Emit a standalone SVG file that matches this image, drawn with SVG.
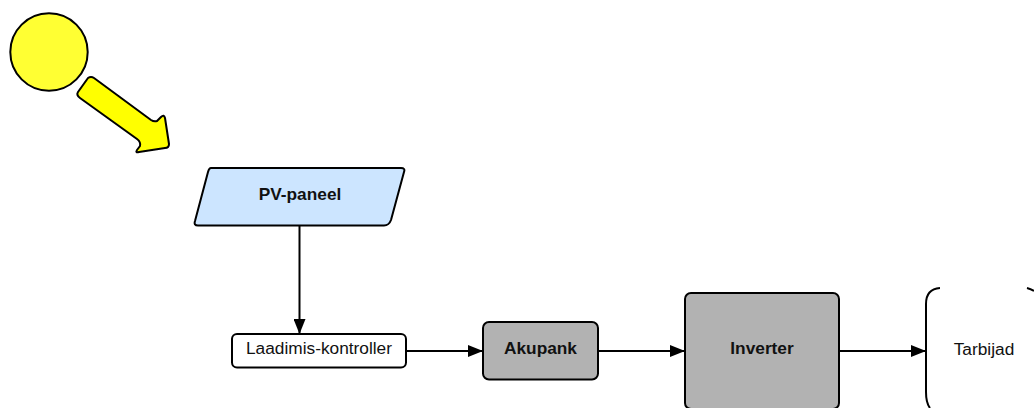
<svg xmlns="http://www.w3.org/2000/svg" width="1034" height="408" viewBox="0 0 1034 408">
<style>
.s{stroke:#000;stroke-width:2;stroke-linejoin:round}
.l{fill:none;stroke:#000;stroke-width:2}
.t{font-family:"Liberation Sans",Arial,sans-serif;font-size:17.3px;fill:#111;text-anchor:middle}
.b{font-weight:bold}
</style>
<defs><marker id="a" markerUnits="userSpaceOnUse" markerWidth="16" markerHeight="12" refX="15" refY="6" orient="auto"><path d="M0 0L15 6L0 12Z" fill="#000"/></marker></defs>
<g id="sun"><circle cx="49" cy="52" r="38.7" fill="#ffff33" class="s"/></g>
<g id="sun-arrow"><path d="M88 78Q91 76 94 78L151 120Q154 122 157 121L161 117Q164 114 165 118L169 144Q169 148 165 148L139 152Q135 153 137 150L140 146Q141 142 137 139L80 98Q76 95 78 92Z" fill="#ffff00" class="s"/></g>
<g id="pv-paneel"><path d="M211 168H401Q405.500 168 404 172L391 220Q389 225.500 384 225.500H198Q193.500 225.500 195 221L208 172Q209 168 211 168Z" fill="#cce5ff" class="s"/><text class="t b" x="300" y="200">PV-paneel</text></g>
<g id="laadimis-kontroller"><rect x="232" y="334" width="174" height="33.500" rx="5" fill="#fff" class="s"/><text class="t" x="319" y="354">Laadimis-kontroller</text></g>
<g id="akupank"><rect x="483" y="322" width="115" height="57.500" rx="6" fill="#b2b2b2" class="s"/><text class="t b" x="540.500" y="354">Akupank</text></g>
<g id="inverter"><rect x="685" y="293" width="154" height="116" rx="6" fill="#b2b2b2" class="s"/><text class="t b" x="762" y="354">Inverter</text></g>
<g id="tarbijad"><path d="M940 288Q926 289 926 304V392Q926 403 930 408" class="l"/><path d="M1027 288Q1031 289 1034 291" class="l"/><text class="t" x="984" y="355">Tarbijad</text></g>
<g id="connectors">
<path d="M299.500 226V334" class="l" marker-end="url(#a)"/>
<path d="M406 351H483" class="l" marker-end="url(#a)"/>
<path d="M598 351H685" class="l" marker-end="url(#a)"/>
<path d="M839 351H926" class="l" marker-end="url(#a)"/>
</g>
</svg>
